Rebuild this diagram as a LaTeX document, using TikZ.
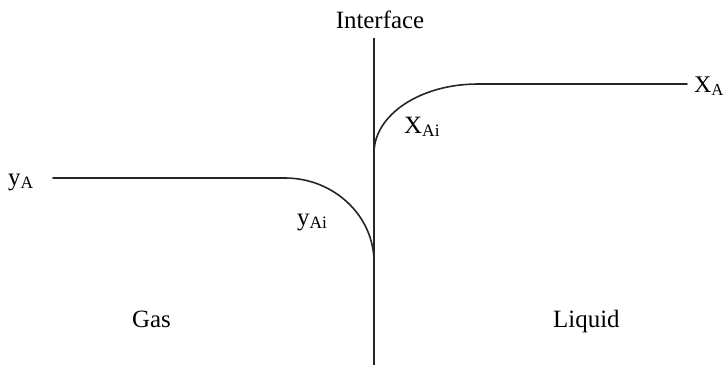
\documentclass[tikz,border=0pt]{standalone}
\usepackage{fontspec}
\setmainfont{Liberation Serif}
\usetikzlibrary{positioning}
\tikzset{
  lbl/.style={font=\fontsize{25}{29}\selectfont, inner sep=0pt, anchor=base west},
  profile/.style={line width=1.6bp, draw=black!85, line cap=round},
  wall/.style={line width=1.7bp, draw=black!85}
}

\begin{document}
\begin{tikzpicture}[x=1bp,y=-1bp]
    \useasboundingbox (0,0) rectangle (725,364);
    % interface
    \node[lbl,anchor=base] (iface) at (380,28) {Interface};
    \coordinate (itop) at (374,38);
    \coordinate (ibot) at (374,366);
    \draw[wall] (itop) -- (ibot);
    % gas side profile
    \coordinate (gstart) at (53,178);
    \coordinate (gbend) at (285,178);
    \coordinate (gend) at (374,262);
    \draw[profile] (gstart) -- (gbend)
        .. controls (334,178) and (374,216) .. (gend);
    % liquid side profile
    \coordinate (lstart) at (374,153);
    \coordinate (lbend) at (478,84);
    \coordinate (lend) at (687,84);
    \draw[profile] (lstart) .. controls (374,115) and (420,84) .. (lbend) -- (lend);
    % labels
    \node[lbl] (yA) at (8,185) {y\textsubscript{A}};
    \node[lbl] (yAi) at (297,225) {y\textsubscript{Ai}};
    \node[lbl] (xAi) at (404,133) {X\textsubscript{Ai}};
    \node[lbl,font=\fontsize{24}{28}\selectfont] (xA) at (694,92) {X\textsubscript{A}};
    \node[lbl] (gas) at (132,327) {Gas};
    \node[lbl] (liq) at (553,327) {Liquid};
\end{tikzpicture}
\end{document}
